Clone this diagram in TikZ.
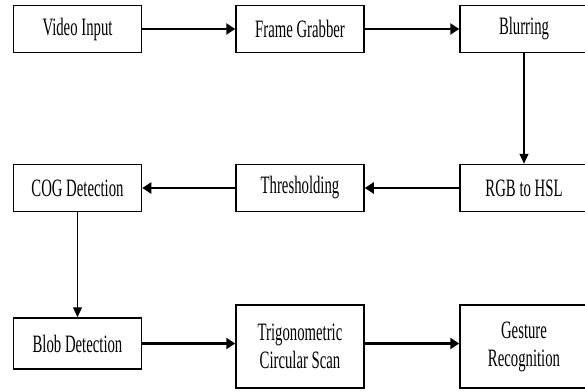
\documentclass[tikz,border=0pt]{standalone}
\usepackage{fontspec}
\setmainfont{Liberation Serif}[FakeStretch=0.59]
\usetikzlibrary{arrows.meta}

\begin{document}
\begin{tikzpicture}[x=1pt, y=-1pt,
  blk/.style={draw, line width=1.5pt, minimum width=128pt, minimum height=47pt,
    inner sep=0pt, align=center, font=\fontsize{25}{28}\selectfont},
  harr/.style={line width=2.4pt, -{Triangle[length=9pt,width=11pt]}},
  varr/.style={line width=1.2pt, -{Triangle[length=10pt,width=9pt]}}]
\useasboundingbox (0,0) rectangle (585,391);
\clip (0,0) rectangle (585,391);
\node[blk] (vid) at (77.5,29){Video Input};
\node[blk] (grab) at (300,29){Frame Grabber};
\node[blk] (blur) at (524,29){Blurring};
\node[blk] (hsl) at (524,188){RGB to HSL};
\node[blk] (thr) at (300,188){Thresholding};
\node[blk] (cog) at (77.5,188){COG Detection};
\node[blk, minimum height=51pt] (blob) at (77.5,343.5){Blob Detection};
\node[blk, minimum height=83pt] (scan) at (300,346.5){Trigonometric\\Circular Scan};
\node[blk, minimum height=83pt] (gest) at (524,346.5){Gesture\\Recognition};
\draw[harr] (vid) -- (grab);
\draw[harr] (grab) -- (blur);
\draw[varr] (blur) -- (hsl);
\draw[harr] (hsl) -- (thr);
\draw[harr] (thr) -- (cog);
\draw[varr] (cog) -- (blob);
\draw[harr] (blob.east) -- (blob.east -| scan.west);
\draw[harr] (blob.east -| scan.east) -- (blob.east -| gest.west);

\end{tikzpicture}
\end{document}
